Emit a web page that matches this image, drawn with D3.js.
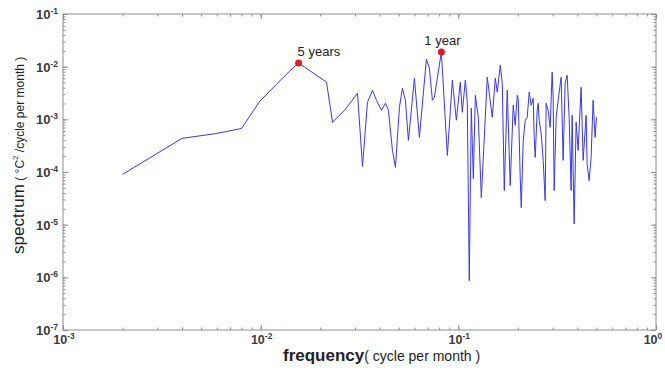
<!DOCTYPE html>
<html>
<head>
  <meta charset="utf-8">
  <script src="https://d3js.org/d3.v7.min.js"></script>
  <style>
    body { margin: 0; background: #fff; }
    svg { font-family: "Liberation Sans", Arial, sans-serif; }
  </style>
</head>
<body>
  <svg id="chart" width="665" height="370"></svg>
  <script>
    // data (frequency in cycle/month, spectrum in degC^2/(cycle/month))
    const FREQ = [0.002, 0.004, 0.006, 0.008, 0.0099, 0.012, 0.014, 0.01556, 0.01667, 0.02153,
      0.0231, 0.02656, 0.0309, 0.03275, 0.0347, 0.03679, 0.03854, 0.04084, 0.04279, 0.04431,
      0.04642, 0.04807, 0.05035, 0.05214, 0.05399, 0.05591, 0.05995, 0.06354, 0.06893, 0.07138,
      0.07392, 0.07566, 0.08207, 0.08799, 0.09327, 0.0977, 0.1023, 0.1047, 0.1085, 0.111,
      0.1136, 0.1163, 0.1191, 0.1219, 0.1262, 0.1307, 0.1401, 0.1485, 0.1538, 0.1574,
      0.163, 0.1668, 0.1708, 0.1768, 0.183, 0.1895, 0.194, 0.1986, 0.2009, 0.2056,
      0.2081, 0.213, 0.218, 0.2231, 0.2283, 0.2337, 0.2392, 0.242, 0.2448, 0.2506,
      0.2535, 0.2565, 0.2625, 0.2687, 0.275, 0.2782, 0.2847, 0.2914, 0.2983, 0.3018,
      0.3053, 0.3125, 0.3199, 0.3312, 0.339, 0.347, 0.3552, 0.3636, 0.3721, 0.3765,
      0.3854, 0.3945, 0.4037, 0.4181, 0.4279, 0.4431, 0.4482, 0.4588, 0.4696, 0.4807,
      0.492, 0.5];
    const SPEC = [9.0e-5, 4.35e-4, 5.4e-4, 6.7e-4, 2.2e-3, 4.6e-3, 8.2e-3, 1.17e-2, 9.8e-3, 5.1e-3,
      8.8e-4, 1.48e-3, 3.13e-3, 1.27e-4, 2.11e-3, 3.56e-3, 2.3e-3, 1.48e-3, 2.02e-3, 1.48e-3,
      2.57e-4, 1.22e-4, 1.69e-3, 3.89e-3, 2.3e-3, 3.98e-4, 6.04e-3, 4.54e-4, 1.39e-2, 9.4e-3,
      2.3e-3, 2.62e-3, 1.89e-2, 2.06e-4, 5.53e-3, 9.6e-4, 5.07e-3, 1.36e-3, 5.53e-3, 2.11e-3,
      8.6e-7, 1.62e-3, 7.5e-5, 2.86e-3, 1.09e-3, 3.27e-5, 6.31e-3, 1.09e-3, 6.04e-3, 3.27e-3,
      1.07e-2, 4.85e-3, 4.44e-5, 3.56e-3, 5.53e-5, 1.85e-3, 7.7e-4, 2.86e-3, 2.51e-3, 7.85e-5,
      2.11e-5, 3.98e-4, 9.6e-4, 1.09e-3, 3.27e-3, 1.85e-3, 2.51e-3, 4.54e-4, 1.89e-4, 1.48e-3,
      2.02e-3, 9.6e-4, 5.4e-4, 1.66e-4, 2.86e-5, 2.02e-3, 1.48e-3, 7.05e-4, 7.86e-3, 2.62e-3,
      4.44e-5, 1.09e-3, 2.3e-3, 6.3e-3, 1.66e-4, 4.85e-3, 6.89e-3, 1.09e-3, 4.44e-5, 1.19e-3,
      1.04e-5, 8.8e-4, 2.57e-4, 4.07e-3, 1.66e-4, 1.19e-3, 1.45e-4, 6.89e-5, 1.89e-4, 2.3e-3,
      4.54e-4, 1.09e-3];

    const PEAK_FREQ  = [0.01556, 0.08207];
    const PEAK_SPEC  = [0.0117, 0.0189];
    const PEAK_LABEL = ["5 years", "1 year"];

    const X_TICKS = [1e-3, 1e-2, 1e-1, 1];
    const X_EXP   = ["-3", "-2", "-1", "0"];
    const Y_TICKS = [1e-7, 1e-6, 1e-5, 1e-4, 1e-3, 1e-2, 1e-1];
    const Y_EXP   = ["-7", "-6", "-5", "-4", "-3", "-2", "-1"];

    // layout
    const LEFT = 63, RIGHT = 656, TOP = 14, BOTTOM = 330;
    const AXIS_COLOR  = "#8e8e8e";
    const LABEL_COLOR = "#3a3a3a";
    const LINE_COLOR  = "#3838e8";
    const DOT_COLOR   = "#dd1f1f";
    const LABEL_OFFSET = [[-1, -7], [-17, -7]];

    const svg = d3.select("#chart");

    const x = d3.scaleLog().domain([1e-3, 1]).range([LEFT, RIGHT]);
    const y = d3.scaleLog().domain([1e-7, 1e-1]).range([BOTTOM, TOP]);

    // ticks on all four sides, pointing inward (minor then major)
    function addTicks(axisFn, scale, tr, values, size) {
      const g = svg.append("g")
        .attr("transform", tr)
        .call(axisFn(scale).tickValues(values).tickFormat("").tickSizeInner(-size).tickSizeOuter(0));
      g.select(".domain").remove();
      g.selectAll("line").attr("stroke", AXIS_COLOR);
    }
    const xMinor = x.ticks(), yMinor = y.ticks();
    addTicks(d3.axisBottom, x, `translate(0,${BOTTOM})`, xMinor, 2.5);
    addTicks(d3.axisTop,    x, `translate(0,${TOP})`,    xMinor, 2.5);
    addTicks(d3.axisLeft,   y, `translate(${LEFT},0)`,   yMinor, 2.5);
    addTicks(d3.axisRight,  y, `translate(${RIGHT},0)`,  yMinor, 2.5);
    addTicks(d3.axisBottom, x, `translate(0,${BOTTOM})`, X_TICKS, 5);
    addTicks(d3.axisTop,    x, `translate(0,${TOP})`,    X_TICKS, 5);
    addTicks(d3.axisLeft,   y, `translate(${LEFT},0)`,   Y_TICKS, 5);
    addTicks(d3.axisRight,  y, `translate(${RIGHT},0)`,  Y_TICKS, 5);

    svg.append("rect")
      .attr("x", LEFT).attr("y", TOP)
      .attr("width", RIGHT - LEFT).attr("height", BOTTOM - TOP)
      .attr("fill", "none").attr("stroke", AXIS_COLOR).attr("stroke-width", 1);

    // tick labels 10^n
    function powerLabel(sel) {
      sel.append("tspan").text("10");
      sel.append("tspan").attr("dy", -5).style("font-size", "8.5px").text(d => d.exp);
    }
    svg.selectAll(".xlab")
      .data(X_TICKS.map((v, i) => ({ v: v, exp: X_EXP[i] })))
      .enter().append("text")
      .attr("class", "xlab")
      .attr("x", d => Math.min(x(d.v) + 1, 653)).attr("y", BOTTOM + 14)
      .attr("text-anchor", "middle")
      .style("font-size", "12.5px").style("font-weight", "bold").attr("fill", LABEL_COLOR)
      .call(powerLabel);

    svg.selectAll(".ylab")
      .data(Y_TICKS.map((v, i) => ({ v: v, exp: Y_EXP[i] })))
      .enter().append("text")
      .attr("class", "ylab")
      .attr("x", LEFT - 5).attr("y", d => y(d.v) + 5)
      .attr("text-anchor", "end")
      .style("font-size", "13px").style("font-weight", "bold").attr("fill", LABEL_COLOR)
      .call(powerLabel);

    // spectrum line
    const pts = FREQ.map((f, i) => ({ f: f, v: SPEC[i] }));
    svg.append("path")
      .datum(pts)
      .attr("fill", "none")
      .attr("stroke", LINE_COLOR)
      .attr("stroke-width", 1)
      .attr("stroke-linejoin", "round")
      .attr("d", d3.line().x(d => x(d.f)).y(d => y(d.v)));

    // peaks
    PEAK_FREQ.forEach((f, i) => {
      svg.append("circle")
        .attr("cx", x(f)).attr("cy", y(PEAK_SPEC[i])).attr("r", 3.5)
        .attr("fill", DOT_COLOR);
      svg.append("text")
        .attr("x", x(f) + LABEL_OFFSET[i][0]).attr("y", y(PEAK_SPEC[i]) + LABEL_OFFSET[i][1])
        .style("font-size", "13px").attr("fill", "#222")
        .text(PEAK_LABEL[i]);
    });

    // axis titles
    const xt = svg.append("text").attr("x", 283).attr("y", 361).attr("fill", "#222");
    xt.append("tspan").style("font-size", "17px").style("font-weight", "bold").text("frequency");
    xt.append("tspan").style("font-size", "14px").text("( cycle per month )");

    const yt = svg.append("text")
      .attr("transform", "translate(24,254) rotate(-90)")
      .attr("fill", "#222");
    yt.append("tspan").style("font-size", "17px").text("spectrum");
    yt.append("tspan").style("font-size", "12px").text(" ( °C");
    yt.append("tspan").style("font-size", "8px").attr("dy", -6).text("2");
    yt.append("tspan").style("font-size", "12px").attr("dy", 6).text(" /cycle per month )");
  </script>
</body>
</html>
